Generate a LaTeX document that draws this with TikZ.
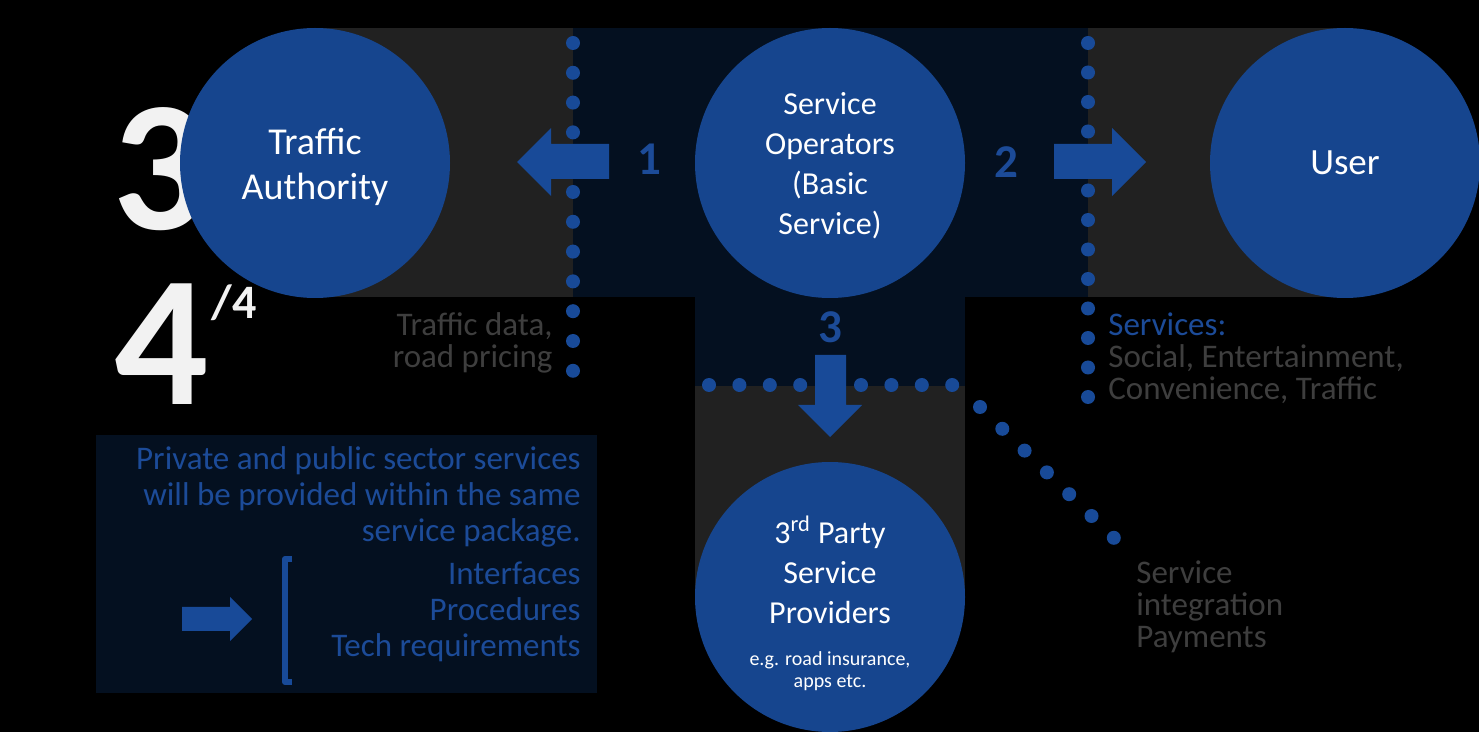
\documentclass[tikz,border=0pt]{standalone}
\usepackage{fontspec}
\setmainfont{Carlito}
\usetikzlibrary{positioning}
\definecolor{bandgray}{RGB}{33,33,33}
\definecolor{bandnavy}{RGB}{4,16,32}
\definecolor{discblue}{RGB}{22,69,142}
\definecolor{dotblue}{RGB}{24,74,152}
\definecolor{textblue}{RGB}{28,75,152}
\definecolor{textgray}{RGB}{62,62,62}
\definecolor{numwhite}{RGB}{242,242,242}
\begin{document}
\begin{tikzpicture}[
    x=0.5pt, y=-0.5pt,
    disc/.style={
      circle, fill=discblue, text=white, align=center,
      minimum size=135pt, inner sep=0pt
    },
    disctext/.style={text=white, align=center, inner sep=0pt},
    bigfont/.style={font=\fontsize{19}{22.5}\selectfont},
    midfont/.style={font=\fontsize{16}{20}\selectfont},
    stepnum/.style={text=textblue, font=\fontsize{23.5}{24}\selectfont\bfseries},
    bignum/.style={text=numwhite, inner sep=0pt, font=\fontsize{93}{93}\selectfont\bfseries},
    graynote/.style={text=textgray, inner sep=0pt, font=\fontsize{16.5}{16}\selectfont},
    boxnote/.style={text=textblue, inner sep=0pt, align=right,
      font=\fontsize{16.5}{18}\selectfont},
    blockarr/.style={fill=dotblue},
    dotline/.style={fill=dotblue}
  ]
    % --- Fondo ---
    \fill[black] (0,0) rectangle (1479,732);
    \useasboundingbox (0,0) rectangle (1479,732);

    % --- Bandas ---
    \fill[bandgray] (315,28) rectangle (573,297);
    \fill[bandnavy] (573,28) rectangle (1088,297);
    \fill[bandgray] (1088,28) rectangle (1350,297);
    \fill[bandnavy] (695,297) rectangle (965,386);
    \fill[bandgray] (695,386) rectangle (965,597);
    \fill[bandnavy] (96,435) rectangle (597,693);

    % --- Numeros grandes ---
    \node[bignum, anchor=base west] (numthree) at (112,230) {3};
    \node[bignum, anchor=base west] (numfour) at (114,405) {4};
    \node[anchor=base west, inner sep=0pt, text=numwhite,
      font=\fontsize{24}{24}\selectfont\bfseries] (numof) at (211,319) {/4};

    % --- Lineas de puntos ---
    \foreach \k in {0,...,11}
      \fill[dotline] (573,43+29.8*\k) circle (7);
    \foreach \k in {0,...,12}
      \fill[dotline] (1088,43+29.5*\k) circle (7);
    \foreach \k in {0,...,8}
      \fill[dotline] (709+30.4*\k,385) circle (7);
    \foreach \k in {0,...,6}
      \fill[dotline] (980+22.3*\k,407+21.8*\k) circle (7);

    % --- Flechas ---
    \fill[blockarr] (609,144) -- (551,144) -- (551,128) -- (517,162)
      -- (551,196) -- (551,179) -- (609,179) -- cycle;
    \fill[blockarr] (1054,144) -- (1112,144) -- (1112,128) -- (1146,162)
      -- (1112,196) -- (1112,179) -- (1054,179) -- cycle;
    \fill[blockarr] (815,355) -- (846,355) -- (846,405) -- (862,405)
      -- (830,437) -- (798,405) -- (815,405) -- cycle;
    \fill[blockarr] (182,607) -- (230,607) -- (230,597) -- (252,619)
      -- (230,641) -- (230,631) -- (182,631) -- cycle;

    % --- Actores ---
    \node[disc] (authority) at (315,163) {};
    \node[disctext, bigfont] (authlbl) at ([yshift=-2pt]authority.center)
      {Traffic\\Authority};
    \node[disc] (operators) at (830,163) {};
    \node[disctext, midfont] (oplbl) at ([yshift=-1.5pt]operators.center)
      {Service\\Operators\\(Basic\\Service)};
    \node[disc, font=\fontsize{18.5}{22}\selectfont] (user) at (1345,163) {User};
    \node[disc] (thirdparty) at (830,597) {};
    \node[disctext, midfont] (thirdlbl) at ([yshift=13.5pt]thirdparty.center)
      {3\textsuperscript{rd} Party\\Service\\Providers};
    \node[disctext, font=\fontsize{10}{11}\selectfont]
      (thirdex) at ([yshift=-37pt]thirdparty.center)
      {e.g. road insurance,\\apps etc.};

    % --- Pasos ---
    \node[stepnum] (stepone) at (649,159) {1};
    \node[stepnum] (steptwo) at (1006,162) {2};
    \node[stepnum] (stepthree) at (830,327) {3};

    % --- Notas ---
    \node[graynote, align=right, anchor=east] (authnote) at (553,343)
      {Traffic data,\\road pricing};
    \node[graynote, align=left, anchor=west] (usernote) at (1108,358)
      {{\color{textblue}Services:}\\Social, Entertainment,\\Convenience, Traffic};
    \node[graynote, align=left, anchor=west] (intnote) at (1136,607)
      {Service\\integration\\Payments};

    % --- Recuadro inferior ---
    \node[boxnote, anchor=east] (pkgnote) at (581,497)
      {Private and public sector services\\will be provided within the same\\service package.};
    \node[boxnote, anchor=east] (reqnote) at (581,612)
      {Interfaces\\Procedures\\Tech requirements};
    \draw[dotblue, line width=3pt, line join=round]
      (292,559) -- (285,559) -- (285,682) -- (292,682);
  \end{tikzpicture}
\end{document}
